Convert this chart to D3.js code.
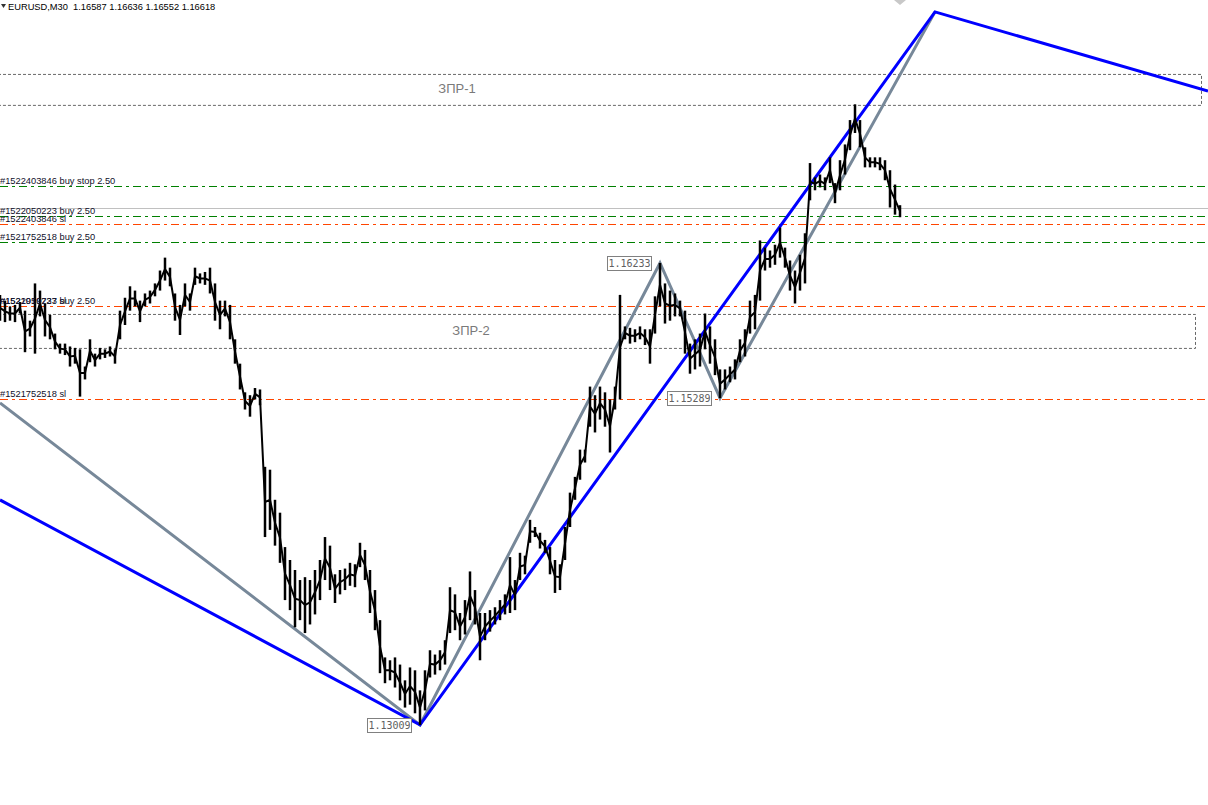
<!DOCTYPE html>
<html>
<head>
<meta charset="utf-8">
<script src="https://cdn.jsdelivr.net/npm/d3@7"></script>
<style>
  body { margin: 0; background: #fff; overflow: hidden; }
  svg { display: block; }
</style>
</head>
<body>
<svg id="chart"></svg>
<script>
const width = 1208;
const height = 805;

// chart header: symbol and last bar O H L C
const symbol = 'EURUSD,M30';
const lastBar = ['1.16587', '1.16636', '1.16552', '1.16618'];
const bid = 1.16618;

// M30 bars, highs and lows
const highs = [
  1.1601, 1.1597, 1.1593, 1.1594, 1.1596, 1.1590, 1.1583, 1.1609, 1.1604, 1.1595,
  1.1587, 1.1574, 1.1567, 1.1567, 1.1565, 1.1564, 1.1563, 1.1551, 1.1570, 1.1560,
  1.1564, 1.1563, 1.1565, 1.1563, 1.1590, 1.1599, 1.1607, 1.1604, 1.1597, 1.1602,
  1.1604, 1.1609, 1.1618, 1.1627, 1.1620, 1.1602, 1.1594, 1.1609, 1.1602, 1.1620,
  1.1616, 1.1617, 1.1620, 1.1609, 1.1597, 1.1597, 1.1594, 1.1570, 1.1553, 1.1533,
  1.1531, 1.1536, 1.1535, 1.1481, 1.1479, 1.1458, 1.1449, 1.1425, 1.1416, 1.1409,
  1.1402, 1.1404, 1.1402, 1.1409, 1.1416, 1.1432, 1.1426, 1.1406, 1.1409, 1.1410,
  1.1414, 1.1413, 1.1428, 1.1423, 1.1409, 1.1395, 1.1374, 1.1348, 1.1346, 1.1348,
  1.1343, 1.1332, 1.1341, 1.1339, 1.1325, 1.1339, 1.1353, 1.1350, 1.1353, 1.1360,
  1.1397, 1.1392, 1.1379, 1.1388, 1.1408, 1.1395, 1.1379, 1.1379, 1.1381, 1.1383,
  1.1388, 1.1392, 1.1418, 1.1402, 1.1421, 1.1419, 1.1444, 1.1439, 1.1435, 1.1430,
  1.1425, 1.1416, 1.1413, 1.1439, 1.1463, 1.1474, 1.1493, 1.1493, 1.1537, 1.1531,
  1.1537, 1.1533, 1.1528, 1.1537, 1.1601, 1.1579, 1.1578, 1.1577, 1.1579, 1.1577,
  1.1577, 1.1600, 1.16233, 1.1609, 1.1604, 1.1602, 1.1597, 1.1590, 1.1567, 1.1570,
  1.1574, 1.1588, 1.1579, 1.1570, 1.1549, 1.1549, 1.1551, 1.1556, 1.1570, 1.1577,
  1.1597, 1.1601, 1.1639, 1.1634, 1.1632, 1.1636, 1.1648, 1.1634, 1.1625, 1.1618,
  1.1629, 1.1644, 1.1693, 1.1683, 1.1685, 1.1683, 1.1697, 1.1679, 1.1695, 1.1706,
  1.1723, 1.1734, 1.1723, 1.1704, 1.1697, 1.1697, 1.1697, 1.1695, 1.1688, 1.1678, 1.16636
];

const lows = [
  1.1583, 1.1582, 1.1583, 1.1582, 1.1588, 1.1561, 1.1572, 1.1560, 1.1586, 1.1572,
  1.1570, 1.1563, 1.1560, 1.1559, 1.1551, 1.1553, 1.1530, 1.1542, 1.1554, 1.1551,
  1.1556, 1.1557, 1.1558, 1.1553, 1.1570, 1.1580, 1.1590, 1.1593, 1.1582, 1.1593,
  1.1595, 1.1600, 1.1604, 1.1611, 1.1607, 1.1583, 1.1573, 1.1593, 1.1590, 1.1608,
  1.1609, 1.1608, 1.1602, 1.1583, 1.1577, 1.1586, 1.1570, 1.1553, 1.1535, 1.1521,
  1.1516, 1.1528, 1.1524, 1.1432, 1.1437, 1.1426, 1.1414, 1.1388, 1.1381, 1.1369,
  1.1374, 1.1365, 1.1371, 1.1378, 1.1388, 1.1402, 1.1395, 1.1386, 1.1392, 1.1395,
  1.1398, 1.1397, 1.1411, 1.1402, 1.1379, 1.1367, 1.1337, 1.1330, 1.1332, 1.1327,
  1.1318, 1.1313, 1.1315, 1.1309, 1.13009, 1.1311, 1.1334, 1.1336, 1.1339, 1.1343,
  1.1365, 1.1367, 1.1360, 1.1364, 1.1374, 1.1371, 1.1346, 1.1360, 1.1366, 1.1371,
  1.1374, 1.1378, 1.1379, 1.1381, 1.1402, 1.1406, 1.1428, 1.1432, 1.1424, 1.1421,
  1.1406, 1.1393, 1.1395, 1.1416, 1.1439, 1.1458, 1.1472, 1.1484, 1.1509, 1.1505,
  1.1514, 1.1509, 1.1491, 1.1521, 1.1528, 1.1570, 1.1567, 1.1568, 1.1570, 1.1566,
  1.1553, 1.1574, 1.1593, 1.1581, 1.1583, 1.1586, 1.1586, 1.1560, 1.1546, 1.1549,
  1.1551, 1.1563, 1.1553, 1.1545, 1.15289, 1.1535, 1.1540, 1.1542, 1.1554, 1.1558,
  1.1574, 1.1577, 1.1597, 1.1618, 1.1620, 1.1622, 1.1627, 1.1620, 1.1604, 1.1595,
  1.1604, 1.1609, 1.1667, 1.1674, 1.1676, 1.1674, 1.1679, 1.1665, 1.1674, 1.1685,
  1.1702, 1.1714, 1.1704, 1.1690, 1.1690, 1.1690, 1.1688, 1.1681, 1.1662, 1.1657, 1.16552
];

// pending orders / stop losses
const orderLabels = [
  '#1522403846 buy stop 2.50',
  '#1522050223 buy 2.50',
  '#1522403846 sl',
  '#1521752518 buy 2.50',
  '#1521919737 buy 2.50',
  '#1522050223 sl',
  '#1521752518 sl'
];
const orderPrices = [1.16770, 1.16561, 1.16505, 1.16380, 1.15933, 1.15933, 1.15284];
const orderKinds = ['open', 'open', 'sl', 'open', 'open', 'sl', 'sl'];

// zones
const zoneNames = ['ЗПР-1', 'ЗПР-2'];
const zoneTop = [1.17552, 1.15877];
const zoneBottom = [1.17336, 1.15640];
const zoneEndBar = [240.2, 239];
const zoneLabelBar = [91.4, 94.2];

// zigzags (bar index, price)
const blueBars = [0, 84, 187, 241.6];
const bluePrices = [1.14579, 1.13009, 1.17985, 1.17433];
const greyBars = [0, 84, 132, 144, 187];
const greyPrices = [1.15256, 1.13009, 1.16233, 1.15289, 1.17985];

// pivot price labels
const pivotBars = [84, 132, 144];
const pivotPrices = [1.13009, 1.16233, 1.15289];

const svg = d3.select('#chart')
  .attr('width', width)
  .attr('height', height);

const x = d3.scaleLinear().domain([0, highs.length - 1]).range([0, 900]);
const y = d3.scaleLinear().domain([1.12450, 1.18068]).range([height, 0]);

const colors = { open: '#008000', sl: '#ff4500' };
const labelFont = '"Liberation Sans", Arial, sans-serif';

// zones
zoneNames.forEach((name, i) => {
  svg.append('rect')
    .attr('x', -2)
    .attr('y', y(zoneTop[i]) + 0.5)
    .attr('width', x(zoneEndBar[i]) + 2.5)
    .attr('height', y(zoneBottom[i]) - y(zoneTop[i]))
    .attr('fill', 'none')
    .attr('stroke', '#696969')
    .attr('stroke-width', 1)
    .attr('stroke-dasharray', '3,2');

  svg.append('text')
    .attr('x', x(zoneLabelBar[i]))
    .attr('y', (y(zoneTop[i]) + y(zoneBottom[i])) / 2 + 4)
    .attr('text-anchor', 'middle')
    .attr('font-family', labelFont)
    .attr('font-size', 13)
    .attr('fill', '#7a7a7a')
    .text(name);
});

// bid line
svg.append('line')
  .attr('x1', 0).attr('x2', width)
  .attr('y1', Math.round(y(bid)) + 0.5).attr('y2', Math.round(y(bid)) + 0.5)
  .attr('stroke', '#c0c0c0')
  .attr('stroke-width', 1);

// order lines
svg.append('g')
  .selectAll('line')
  .data(orderPrices)
  .enter()
  .append('line')
  .attr('x1', 0).attr('x2', width)
  .attr('y1', d => Math.round(y(d)) + 0.5)
  .attr('y2', d => Math.round(y(d)) + 0.5)
  .attr('stroke', (d, i) => colors[orderKinds[i]])
  .attr('stroke-width', 1.2)
  .attr('stroke-dasharray', '8,4,3,4');

// zigzags
const zig = d3.line().x(d => x(d[0])).y(d => y(d[1]));

svg.append('path')
  .datum(greyBars.map((b, i) => [b, greyPrices[i]]))
  .attr('d', zig)
  .attr('fill', 'none')
  .attr('stroke', '#778899')
  .attr('stroke-width', 3);

svg.append('path')
  .datum(blueBars.map((b, i) => [b, bluePrices[i]]))
  .attr('d', zig)
  .attr('fill', 'none')
  .attr('stroke', '#0000ff')
  .attr('stroke-width', 3);

// price: a line through the bar middles plus the high-low range of each bar
const bars = highs.map((h, i) => ({ i, h, l: lows[i] }));

svg.append('path')
  .datum(bars)
  .attr('d', d3.line().x(d => x(d.i)).y(d => y((d.h + d.l) / 2)))
  .attr('fill', 'none')
  .attr('stroke', '#000')
  .attr('stroke-width', 2);

svg.append('g')
  .selectAll('line')
  .data(bars)
  .enter()
  .append('line')
  .attr('x1', d => x(d.i)).attr('x2', d => x(d.i))
  .attr('y1', d => y(d.h)).attr('y2', d => y(d.l))
  .attr('stroke', '#000')
  .attr('stroke-width', 2.5);

// pivot labels
const pivot = svg.append('g')
  .selectAll('g')
  .data(pivotPrices)
  .enter()
  .append('g')
  .attr('transform', (d, i) => `translate(${Math.round(x(pivotBars[i])) - 53},${Math.round(y(d)) - 7})`);

pivot.append('rect')
  .attr('x', 0.5).attr('y', 0.5)
  .attr('width', 44).attr('height', 14)
  .attr('fill', '#fff')
  .attr('stroke', '#808080');

pivot.append('text')
  .attr('x', 22.5)
  .attr('y', 11)
  .attr('text-anchor', 'middle')
  .attr('font-family', '"DejaVu Sans Mono", monospace')
  .attr('font-size', 10)
  .attr('fill', '#606060')
  .text(d => d.toFixed(5));

// order labels
svg.append('g')
  .selectAll('text')
  .data(orderLabels)
  .enter()
  .append('text')
  .attr('x', 0)
  .attr('y', (d, i) => Math.round(y(orderPrices[i])) - 2)
  .attr('font-family', labelFont)
  .attr('font-size', 9.3)
  .attr('fill', '#10102a')
  .text(d => d);

// header
svg.append('path')
  .attr('d', 'M1,4 L6,4 L3.5,8 Z')
  .attr('fill', '#333');

svg.append('text')
  .attr('x', 8)
  .attr('y', 10)
  .attr('font-family', labelFont)
  .attr('font-size', 9.3)
  .attr('fill', '#000')
  .attr('xml:space', 'preserve')
  .text(`${symbol}  ${lastBar.join(' ')}`);

// chart shift marker over the last bar
const sx = x(highs.length - 1);
svg.append('path')
  .attr('d', `M${sx - 6},0 L${sx + 6},0 L${sx},5 Z`)
  .attr('fill', '#c8c8c8');
</script>
</body>
</html>
